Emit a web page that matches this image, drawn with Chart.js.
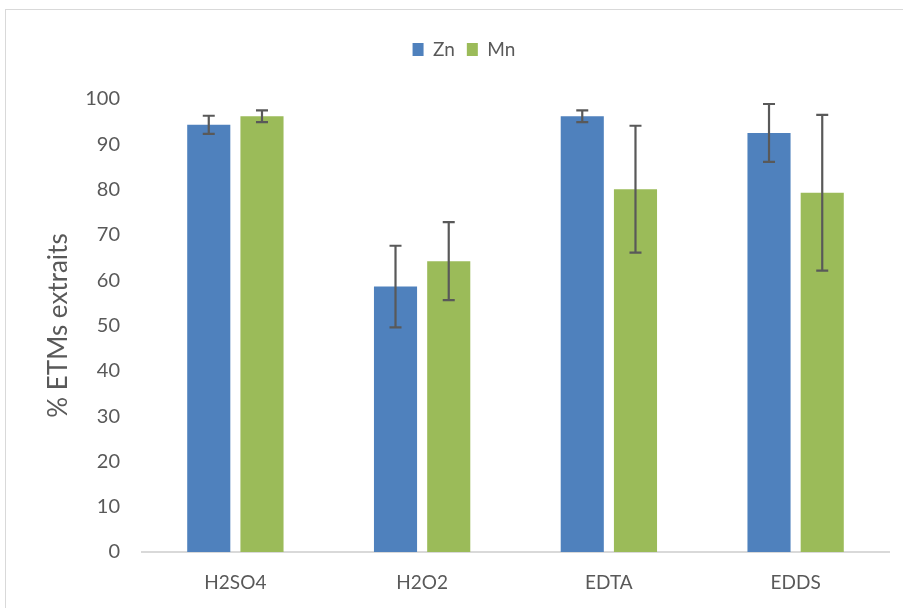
<!DOCTYPE html>
<html>
<head>
<meta charset="utf-8">
<script src="https://cdn.jsdelivr.net/npm/chart.js@4"></script>
<style>
  html, body { margin: 0; padding: 0; background: #fff; overflow: hidden; }
  #wrap { position: relative; width: 903px; height: 608px; }
  #frame { position: absolute; left: 5px; top: 9px; width: 1000px; height: 700px; border: 1px solid #d9d9d9; box-sizing: border-box; }
  canvas { position: absolute; left: 0; top: 0; }
</style>
</head>
<body>
<div id="wrap">
  <div id="frame"></div>
  <canvas id="myChart" width="903" height="608"></canvas>
</div>
<script>
// données
let categories = ['H2SO4', 'H2O2', 'EDTA', 'EDDS'];
let zn = [94.3, 58.6, 96.2, 92.5];
let znErr = [2.0, 9.0, 1.3, 6.4];
let mn = [96.2, 64.2, 80.1, 79.3];
let mnErr = [1.3, 8.6, 14.0, 17.2];

// barres d'erreur dessinées par-dessus les barres
let errorBars = {
    id: 'errorBars',
    afterDatasetsDraw(chart) {
        let ctx = chart.ctx;
        let yScale = chart.scales.y;
        ctx.save();
        ctx.strokeStyle = '#595959';
        ctx.lineWidth = 2.2;
        chart.data.datasets.forEach((ds, i) => {
            let meta = chart.getDatasetMeta(i);
            meta.data.forEach((bar, j) => {
                let v = ds.data[j], e = ds.errors[j];
                let top = yScale.getPixelForValue(v + e);
                let bot = yScale.getPixelForValue(v - e);
                ctx.beginPath();
                ctx.moveTo(bar.x, top);
                ctx.lineTo(bar.x, bot);
                ctx.moveTo(bar.x - 6, top);
                ctx.lineTo(bar.x + 6, top);
                ctx.moveTo(bar.x - 6, bot);
                ctx.lineTo(bar.x + 6, bot);
                ctx.stroke();
            });
        });
        ctx.restore();
    }
};

// hauteur fixe de la légende pour placer la zone du graphique
let legendHeight = {
    id: 'legendHeight',
    afterInit(chart) {
        let fit = chart.legend.fit;
        chart.legend.fit = function () {
            fit.call(this);
            this.height = 71;
        };
    }
};

let ctx = document.getElementById('myChart').getContext('2d');
let chart = new Chart(ctx, {
    type: 'bar',
    data: {
        labels: categories,
        datasets: [{
            label: 'Zn',
            data: zn,
            errors: znErr,
            backgroundColor: '#4f81bd',
            categoryPercentage: 0.57,
            barPercentage: 0.81
        }, {
            label: 'Mn',
            data: mn,
            errors: mnErr,
            backgroundColor: '#9bbb59',
            categoryPercentage: 0.57,
            barPercentage: 0.81
        }]
    },
    options: {
        responsive: false,
        animation: false,
        layout: { padding: { left: 39, right: 14, top: 28, bottom: 0 } },
        plugins: {
            legend: {
                position: 'top',
                labels: {
                    boxWidth: 11,
                    boxHeight: 13,
                    padding: 12,
                    color: '#595959',
                    font: { family: 'Lato', size: 19 }
                }
            },
            tooltip: { enabled: false }
        },
        scales: {
            x: {
                afterFit(scale) { scale.height = 56; },
                grid: { display: false, drawTicks: false },
                border: { color: '#d9d9d9', width: 2 },
                ticks: { color: '#595959', padding: 19, font: { family: 'Lato', size: 19 } }
            },
            y: {
                min: 0,
                max: 100,
                afterFit(scale) { scale.width = 103; },
                ticks: { stepSize: 10, color: '#595959', padding: 22, font: { family: 'Lato', size: 20 } },
                grid: { display: false, drawTicks: false },
                border: { display: false },
                title: {
                    display: true,
                    text: '% ETMs extraits',
                    color: '#595959',
                    font: { family: 'Lato', size: 26 }
                }
            }
        }
    },
    plugins: [errorBars, legendHeight]
});
</script>
</body>
</html>
